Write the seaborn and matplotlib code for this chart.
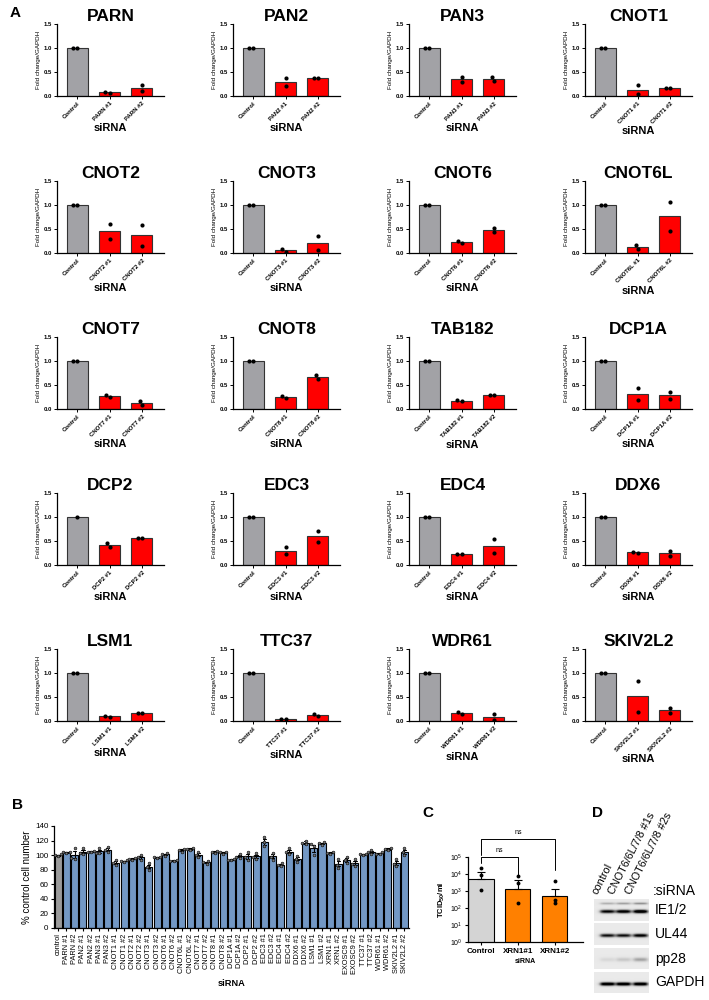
import numpy as np
import pandas as pd
import matplotlib
matplotlib.use("Agg")
import matplotlib.pyplot as plt
import seaborn as sns

sns.set_style("ticks")
plt.rcParams['font.family'] = ['Liberation Sans', 'DejaVu Sans']
plt.rcParams['mathtext.default'] = 'regular'
for key in ['text.color', 'axes.labelcolor', 'xtick.color', 'ytick.color', 'axes.edgecolor']:
    plt.rcParams[key] = 'black'

W, H = 709, 1000

""" Panel A: knockdown efficiency (fold change / GAPDH), two replicates per bar """
genes = ['PARN', 'PAN2', 'PAN3', 'CNOT1', 'CNOT2', 'CNOT3', 'CNOT6', 'CNOT6L',
         'CNOT7', 'CNOT8', 'TAB182', 'DCP1A', 'DCP2', 'EDC3', 'EDC4', 'DDX6',
         'LSM1', 'TTC37', 'WDR61', 'SKIV2L2']
ctrl_reps = [[1.0, 1.0]] * 12 + [[1.0]] + [[1.0, 1.0]] * 7
si1_reps = [[0.07, 0.08], [0.38, 0.20], [0.40, 0.30], [0.22, 0.04], [0.61, 0.29],
            [0.03, 0.08], [0.21, 0.25], [0.17, 0.09], [0.25, 0.30], [0.23, 0.28],
            [0.16, 0.18], [0.44, 0.19], [0.45, 0.38], [0.38, 0.22], [0.22, 0.22],
            [0.25, 0.28], [0.09, 0.10], [0.04, 0.05], [0.15, 0.19], [0.84, 0.19]]
si2_reps = [[0.22, 0.11], [0.38, 0.38], [0.40, 0.32], [0.16, 0.17], [0.59, 0.15],
            [0.35, 0.06], [0.53, 0.43], [1.07, 0.46], [0.17, 0.09], [0.71, 0.63],
            [0.30, 0.30], [0.36, 0.21], [0.57, 0.57], [0.71, 0.48], [0.55, 0.24],
            [0.30, 0.19], [0.16, 0.17], [0.10, 0.14], [0.14, 0.02], [0.28, 0.16]]

""" Panel B: cell number, three replicates per siRNA """
b_labels = ['control', 'PARN #1', 'PARN #2', 'PAN2 #1', 'PAN2 #2', 'PAN3 #1', 'PAN3 #2',
            'CNOT1 #1', 'CNOT1 #2', 'CNOT2 #1', 'CNOT2 #2', 'CNOT3 #1', 'CNOT3 #2',
            'CNOT6 #1', 'CNOT6 #2', 'CNOT6L #1', 'CNOT6L #2', 'CNOT7 #1', 'CNOT7 #2',
            'CNOT8 #1', 'CNOT8 #2', 'DCP1A #1', 'DCP1A #2', 'DCP2 #1', 'DCP2 #2',
            'EDC3 #1', 'EDC3 #2', 'EDC4 #1', 'EDC4 #2', 'DDX6 #1', 'DDX6 #2',
            'LSM1 #1', 'LSM1 #2', 'XRN1 #1', 'XRN1 #2', 'EXOSC9 #1', 'EXOSC9 #2',
            'TTC37 #1', 'TTC37 #2', 'WDR61 #1', 'WDR61 #2', 'SKIV2L2 #1', 'SKIV2L2 #2']
b_reps = [[100, 99, 101], [105, 103, 104], [110, 96, 95], [110, 103, 102], [106, 104, 104],
          [110, 103, 103], [111, 107, 104], [93, 89, 86], [93, 92, 91], [96, 95, 94],
          [100, 97, 94], [89, 84, 80], [98, 97, 96], [103, 101, 99], [93, 92, 92],
          [109, 107, 105], [110, 108, 107], [104, 100, 97], [92, 90, 88], [106, 104, 103],
          [105, 104, 102], [95, 94, 93], [101, 98, 96], [104, 97, 94], [103, 97, 95],
          [125, 118, 112], [103, 98, 94], [89, 87, 85], [110, 104, 101], [99, 95, 91],
          [120, 117, 115], [115, 113, 100], [118, 116, 114], [105, 103, 102], [95, 87, 83],
          [98, 93, 89], [95, 88, 85], [102, 101, 100], [107, 104, 102], [104, 102, 101],
          [110, 108, 107], [95, 88, 85], [110, 104, 100]]

""" Panel C: virus titre """
c_groups = ['Control', 'XRN1#1', 'XRN1#2']
c_mean = [4900, 1400, 530]
c_err_top = [13000, 4700, 1400]
c_dots = [[22000, 8700, 1100], [7300, 3000, 200], [3700, 280, 200]]

""" Panel D: western blot band intensities """
d_lanes = ['control', 'CNOT6/6L/7/8 #1s', 'CNOT6/6L/7/8 #2s']
d_rows = ['IE1/2', 'UL44', 'pp28', 'GAPDH']
d_main = [[0.85, 0.92, 1.0], [0.8, 0.8, 0.88], [0.10, 0.18, 0.32], [1.0, 1.0, 1.0]]
d_upper = [[0.25, 0.3, 0.35], [0, 0, 0], [0, 0, 0], [0, 0, 0]]


def px_axes(fig, left, top, width, height):
    return fig.add_axes([left / W, 1 - (top + height) / H, width / W, height / H])


fig = plt.figure(figsize=(W / 100, H / 100), dpi=100)

""" Panel A grid """
col_left = [57, 233, 409, 585]
row_top = [24, 181, 337, 493, 649]
for i, g in enumerate(genes):
    ax = px_axes(fig, col_left[i % 4], row_top[i // 4], 107, 72)
    order = ['Control', f'{g} #1', f'{g} #2']
    rows = []
    for lab, reps in zip(order, [ctrl_reps[i], si1_reps[i], si2_reps[i]]):
        rows += [(lab, v) for v in reps]
    df = pd.DataFrame(rows, columns=['siRNA', 'fc'])
    pal = {order[0]: '#a2a2a6', order[1]: '#ff0000', order[2]: '#ff0000'}
    sns.barplot(data=df, x='siRNA', y='fc', order=order, hue='siRNA', palette=pal,
                errorbar=None, width=0.65, edgecolor='#333333', linewidth=0.8,
                saturation=1, legend=False, ax=ax)
    sns.swarmplot(data=df, x='siRNA', y='fc', order=order, color='black', size=3, ax=ax)
    ax.set_xlim(-0.62, 2.68)
    ax.set_ylim(0, 1.5)
    ax.set_yticks([0, 0.5, 1.0, 1.5])
    ax.set_yticklabels(['0.0', '0.5', '1.0', '1.5'])
    ax.set_title(g, fontsize=12.5, fontweight='bold', pad=1)
    ax.set_ylabel('Fold change/GAPDH', fontsize=4.5, labelpad=2)
    ax.set_xlabel('siRNA', fontsize=8, fontweight='bold', labelpad=1)
    ax.tick_params(length=2, width=0.7, labelsize=4.3, pad=1.5)
    for t in ax.get_xticklabels():
        t.set_rotation(45)
        t.set_ha('right')
        t.set_rotation_mode('anchor')
        t.set_fontweight('bold')
    for t in ax.get_yticklabels():
        t.set_fontweight('bold')
    for s in ['left', 'bottom']:
        ax.spines[s].set_linewidth(0.9)
    sns.despine(ax=ax)
fig.text(10 / W, 1 - 13 / H, 'A', fontsize=11, fontweight='bold', va='center')

""" Panel B """
axb = px_axes(fig, 54, 826, 355, 102)
rows = []
for lab, reps in zip(b_labels, b_reps):
    rows += [(lab, v) for v in reps]
dfb = pd.DataFrame(rows, columns=['siRNA', 'pct'])
palb = {lab: ('#9b9b9b' if lab == 'control' else '#7398c4') for lab in b_labels}
sns.barplot(data=dfb, x='siRNA', y='pct', order=b_labels, hue='siRNA', palette=palb,
            errorbar='se', capsize=0.4, width=0.85, edgecolor='black', linewidth=0.8,
            saturation=1, err_kws={'color': 'black', 'linewidth': 0.8}, legend=False, ax=axb)
sns.swarmplot(data=dfb, x='siRNA', y='pct', order=b_labels, color='#777777',
              edgecolor='black', linewidth=0.4, size=2.0, ax=axb)
axb.set_xlim(-0.5, len(b_labels) - 0.45)
axb.set_ylim(0, 140)
axb.set_yticks(range(0, 141, 20))
axb.set_ylabel('% control cell number', fontsize=7, labelpad=2)
axb.set_xlabel('siRNA', fontsize=6.7, fontweight='bold', labelpad=4)
axb.tick_params(axis='y', length=2.5, width=0.8, labelsize=5.8, pad=1.5)
axb.tick_params(axis='x', length=2.5, width=0.8, labelsize=5.3, pad=1.5, rotation=90)
for s in ['left', 'bottom']:
    axb.spines[s].set_linewidth(0.9)
sns.despine(ax=axb)
fig.text(12 / W, 1 - 805 / H, 'B', fontsize=11, fontweight='bold', va='center')

""" Panel C """
axc = px_axes(fig, 468, 857, 115, 85)
dfc = pd.DataFrame({'siRNA': c_groups, 'titre': c_mean})
palc = {'Control': '#d4d4d4', 'XRN1#1': '#ff8000', 'XRN1#2': '#ff8000'}
sns.barplot(data=dfc, x='siRNA', y='titre', order=c_groups, hue='siRNA', palette=palc,
            errorbar=None, width=0.68, edgecolor='black', linewidth=0.8,
            saturation=1, legend=False, ax=axc)
axc.set_yscale('log')
axc.errorbar(x=range(len(c_groups)), y=c_mean,
             yerr=[np.zeros(len(c_mean)), np.array(c_err_top) - np.array(c_mean)],
             fmt='none', ecolor='black', elinewidth=0.8, capsize=3, capthick=0.8)
rows = []
for lab, reps in zip(c_groups, c_dots):
    rows += [(lab, v) for v in reps]
dfc_dots = pd.DataFrame(rows, columns=['siRNA', 'titre'])
sns.stripplot(data=dfc_dots, x='siRNA', y='titre', order=c_groups, jitter=False,
              color='black', size=2.8, ax=axc)
axc.set_xlim(-0.35, 2.76)
axc.set_ylim(1, 1e5)
axc.set_yticks([1, 10, 100, 1e3, 1e4, 1e5])
axc.minorticks_off()
axc.set_ylabel('TCID$_{50}$/ml', fontsize=5.5, fontweight='bold', labelpad=2)
axc.set_xlabel('siRNA', fontsize=5, fontweight='bold', labelpad=2)
axc.tick_params(axis='y', length=2.5, width=0.8, labelsize=5, pad=1.5)
axc.tick_params(axis='x', length=2.5, width=0.8, labelsize=5.8, pad=2)
for t in axc.get_xticklabels():
    t.set_fontweight('bold')
for s in ['left', 'bottom']:
    axc.spines[s].set_linewidth(0.9)
sns.despine(ax=axc)
tr = axc.get_xaxis_transform()
axc.plot([0, 0, 1, 1], [0.93, 1.0, 1.0, 0.79], color='black', lw=0.7,
         transform=tr, clip_on=False)
axc.text(0.5, 1.04, 'ns', fontsize=5, ha='center', va='bottom', transform=tr)
axc.plot([0, 0, 2, 2], [1.02, 1.21, 1.21, 0.85], color='black', lw=0.7,
         transform=tr, clip_on=False)
axc.text(1.0, 1.25, 'ns', fontsize=5, ha='center', va='bottom', transform=tr)
fig.text(422 / W, 1 - 813 / H, 'C', fontsize=11, fontweight='bold', va='center')

""" Panel D: blot strips """
lane_x = [13, 29, 46]
blot_top = [899, 923, 948, 972]
blot_h = [22, 22, 21, 21]
for r, name in enumerate(d_rows):
    axd = px_axes(fig, 594, blot_top[r], 55, blot_h[r])
    yy, xx = np.mgrid[0:blot_h[r], 0:55]
    img = np.full(yy.shape, 0.16)
    cy = blot_h[r] / 2 + 1
    for k, lx in enumerate(lane_x):
        prof_x = 1 / (1 + np.exp((np.abs(xx - lx) - 7) / 1.2))
        img += d_main[r][k] * prof_x * np.exp(-((yy - cy) / 1.9) ** 2)
        img += d_upper[r][k] * prof_x * np.exp(-((yy - 4) / 1.3) ** 2)
    axd.imshow(np.clip(img, 0, 1), cmap='Greys', vmin=0, vmax=1.0,
               aspect='auto', interpolation='bilinear')
    axd.set_xticks([])
    axd.set_yticks([])
    for s in axd.spines.values():
        s.set_visible(False)
    fig.text(655 / W, 1 - (blot_top[r] + blot_h[r] / 2) / H, name, fontsize=10,
             va='center', ha='left')
fig.text(653 / W, 1 - 891 / H, ':siRNA', fontsize=10, va='center', ha='left')
for k, lab in enumerate(d_lanes):
    fig.text((594 + lane_x[k] - 9) / W, 1 - 895 / H, lab, fontsize=7.8, rotation=63,
             ha='left', va='baseline', rotation_mode='anchor')
fig.text(592 / W, 1 - 813 / H, 'D', fontsize=11, fontweight='bold', va='center')

fig.savefig('out.png', dpi=100)
